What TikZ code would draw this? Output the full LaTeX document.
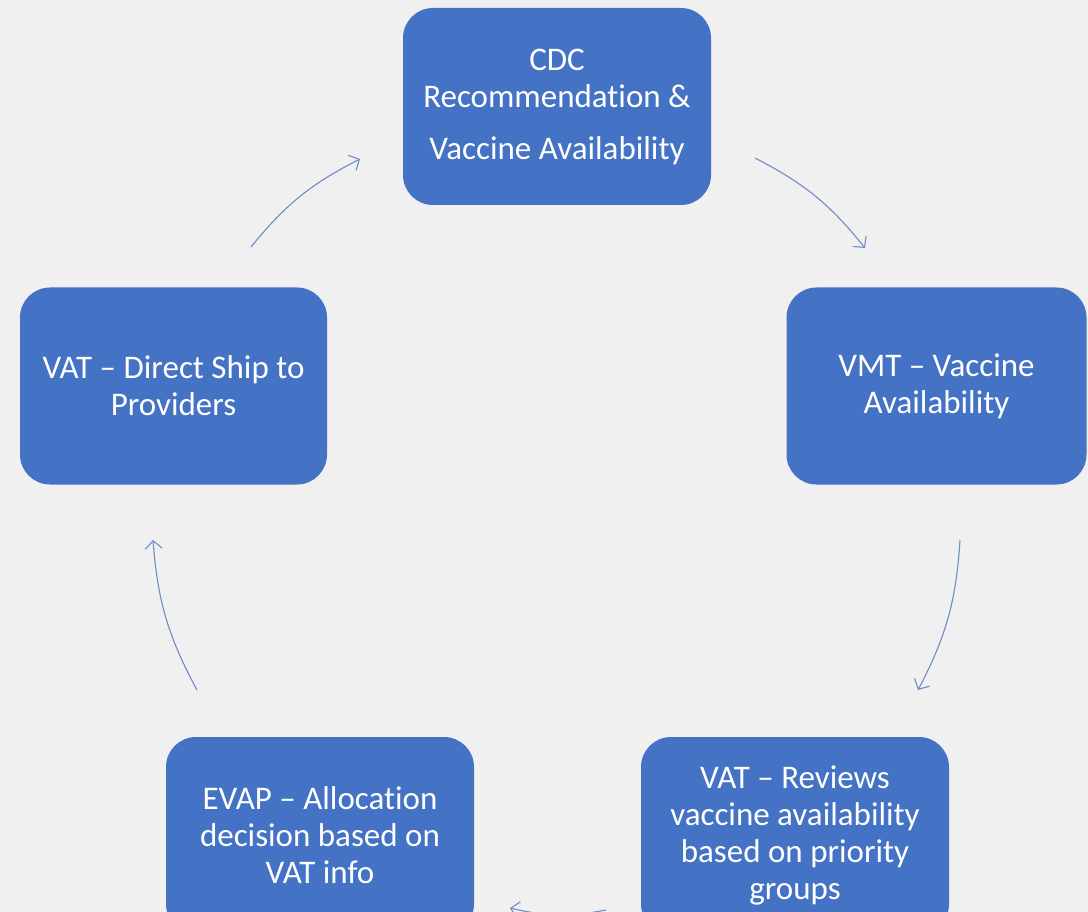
\documentclass[tikz,border=0pt]{standalone}
\usepackage{fontspec}
\setmainfont[Ligatures={NoCommon}]{Carlito}
\usetikzlibrary{arrows.meta}
\definecolor{bg}{RGB}{240,240,240}
\definecolor{boxblue}{RGB}{68,114,196}
\definecolor{arrowblue}{RGB}{110,140,200}
\begin{document}
\begin{tikzpicture}[x=1pt,y=-1pt,
  box/.style={fill=boxblue, rounded corners=30pt, minimum width=308pt, minimum height=197pt, text=white, align=center, font=\fontsize{33}{37}\selectfont, inner sep=0pt},
  flow/.style={draw=arrowblue, line width=1.1pt, -{Straight Barb[length=8pt,width=17pt]}}]
\useasboundingbox (0,0) rectangle (1088,912);
\clip (0,0) rectangle (1088,912);
\fill[bg] (0,0) rectangle (1088,912);
\node[box] (cdc) at (557,106.5) {CDC\\ Recommendation \&\\[15pt] Vaccine Availability};
\node[box, minimum width=300pt] (vmt) at (936.5,386) {VMT – Vaccine\\ Availability};
\node[box] (rev) at (795,835.5) {VAT – Reviews\\ vaccine availability\\ based on priority\\ groups};
\node[box] (evap) at (320,835.5) {EVAP – Allocation\\ decision based on\\ VAT info};
\node[box, minimum width=307pt] (ship) at (173.5,386) {VAT – Direct Ship to\\ Providers};
\coordinate (a1s) at (755,158); \coordinate (a1e) at (865,248);
\coordinate (a2s) at (960,540); \coordinate (a2e) at (918,690);
\coordinate (a3s) at (606,910); \coordinate (a3e) at (510,908);
\coordinate (a4s) at (197,690); \coordinate (a4e) at (153,540);
\coordinate (a5s) at (251,247); \coordinate (a5e) at (360,159);
\draw[flow] (a1s) to[bend left=12] (a1e);
\draw[flow] (a2s) to[bend left=12] (a2e);
\draw[flow] (a3s) to[bend left=12] (a3e);
\draw[flow] (a4s) to[bend left=12] (a4e);
\draw[flow] (a5s) to[bend left=12] (a5e);
\end{tikzpicture}
\end{document}
